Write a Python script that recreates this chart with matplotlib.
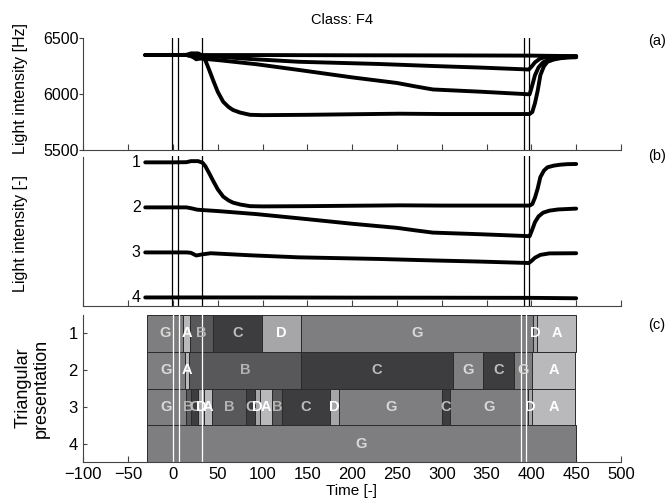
import matplotlib
matplotlib.use("Agg")
import matplotlib.pyplot as plt


plt.rcParams["font.family"] = ["Liberation Sans", "DejaVu Sans"]

#######################################################################################################
# data

# panel (a): raw light intensity [Hz] of the four sensors
t_s1 = [-31, 0, 15, 20, 28, 33, 36, 40, 45, 50, 56, 62, 67, 75, 86, 100, 150, 200, 253, 300, 350, 398,
        401, 404, 407, 410, 414, 418, 425, 432, 440, 450]
hz_s1 = [6350, 6350, 6352, 6365, 6365, 6345, 6305, 6225, 6120, 6020, 5932, 5885, 5858, 5835, 5815, 5812,
         5815, 5820, 5825, 5822, 5822, 5822, 5840, 5920, 6030, 6170, 6250, 6290, 6310, 6321, 6328, 6330]

t_s2 = [-31, 15, 20, 27, 32, 50, 93, 141, 200, 250, 270, 290, 343, 392, 398, 401, 404, 408, 413, 420, 430, 450]
hz_s2 = [6350, 6350, 6340, 6322, 6318, 6305, 6268, 6216, 6150, 6100, 6070, 6042, 6022, 6001, 5998,
         6080, 6170, 6240, 6285, 6310, 6325, 6335]

t_s3 = [-31, 15, 20, 26, 32, 42, 86, 140, 230, 290, 343, 393, 397, 400, 404, 410, 420, 450]
hz_s3 = [6350, 6350, 6345, 6312, 6325, 6340, 6315, 6290, 6270, 6252, 6238, 6222, 6220, 6245, 6285,
         6320, 6338, 6340]

t_s4 = [-31, 100, 200, 300, 400, 450]
hz_s4 = [6350, 6350, 6348, 6347, 6345, 6340]

# panel (b) shows each sensor shifted to its index and scaled
BASE_HZ = 6350
HZ_PER_UNIT = 550

# event markers
events_ab = [-1, 6, 32, 391.5, 397.5]
events_c = [0, 7, 32, 388, 394.5]

# panel (c): triangular presentation, one row per sensor
row1_edges = [-29.5, 11.5, 19, 45, 99, 142.5, 402, 406.5, 450]
row1_classes = ["G", "A", "B", "C", "D", "G", "D", "A"]

row2_edges = [-29.5, 13, 17.5, 143, 312, 346, 381, 400.5, 449]
row2_classes = ["G", "A", "B", "C", "G", "C", "G", "A"]

row3_edges = [-29.5, 15, 20, 28, 34.5, 43.5, 82, 91.5, 97, 111, 122, 175, 185.5, 300.5, 309, 396.5, 401, 449]
row3_classes = ["G", "B", "C", "D", "A", "B", "C", "D", "A", "B", "C", "D", "G", "C", "G", "D", "A"]

row4_edges = [-29.5, 449.5]
row4_classes = ["G"]

x_ticks = [-100, -50, 0, 50, 100, 150, 200, 250, 300, 350, 400, 450, 500]

#######################################################################################################

block_color = {"G": "#7e7e80", "A": "#b9b9bb", "B": "#58585a", "C": "#3d3d3f", "D": "#a6a6a8"}
label_color = {"G": "#d9d9d9", "A": "white", "B": "#b3b3b3", "C": "#bdbdbd", "D": "white"}

W, H = 670, 499


def frame(left, top, right, bottom):
    return [left / W, 1 - bottom / H, (right - left) / W, (bottom - top) / H]


fig = plt.figure(figsize=(6.7, 4.99), dpi=100)
ax_a = fig.add_axes(frame(83.4, 38.3, 621, 150))
ax_b = fig.add_axes(frame(83.4, 156.5, 621, 306))
ax_c = fig.add_axes(frame(83.4, 315, 621, 462))

series = [(t_s1, hz_s1), (t_s2, hz_s2), (t_s3, hz_s3), (t_s4, hz_s4)]

for ax in (ax_a, ax_b, ax_c):
    ax.set_xlim(-100, 500)
    ax.set_xticks(x_ticks)
    for side in ("top", "right"):
        ax.spines[side].set_visible(False)
    for side in ("left", "bottom"):
        ax.spines[side].set_linewidth(0.8)
        ax.spines[side].set_color("#444444")
    ax.tick_params(axis="x", direction="in", length=4.5, width=0.8, color="#444444")

# (a)
for t, hz in series:
    ax_a.plot(t, hz, color="black", lw=2.8, solid_joinstyle="round", solid_capstyle="round")
for e in events_ab:
    ax_a.axvline(e, color="black", lw=0.9)
ax_a.set_ylim(5500, 6500)
ax_a.set_yticks([5500, 6000, 6500])
ax_a.tick_params(axis="y", direction="out", length=2.6, width=0.8, pad=1, labelsize=11.5, color="#444444")
ax_a.tick_params(axis="x", labelbottom=False)

# (b)
for k, (t, hz) in enumerate(series, start=1):
    norm = [k + (BASE_HZ - v) / HZ_PER_UNIT for v in hz]
    ax_b.plot(t, norm, color="black", lw=2.8, solid_joinstyle="round", solid_capstyle="round")
    ax_b.text(t[0] - 5, k, str(k), ha="right", va="center", fontsize=11.5)
for e in events_ab:
    ax_b.axvline(e, color="black", lw=0.9)
ax_b.set_ylim(4.19, 0.87)
ax_b.set_yticks([])
ax_b.tick_params(axis="x", labelbottom=False)

# (c)
rows = [(row1_edges, row1_classes), (row2_edges, row2_classes),
        (row3_edges, row3_classes), (row4_edges, row4_classes)]
ax_c.set_axisbelow(True)
for r, (edges, classes) in enumerate(rows, start=1):
    for i, cls in enumerate(classes):
        x0, x1 = edges[i], edges[i + 1]
        ax_c.barh(r, x1 - x0, left=x0, height=1.0, color=block_color[cls],
                  edgecolor="#2a2a2a", linewidth=0.7)
    for i, cls in enumerate(classes):
        xm = 0.5 * (edges[i] + edges[i + 1])
        ax_c.text(xm, r, cls, ha="center", va="center", fontsize=10.5, fontweight="bold",
                  color=label_color[cls])
for e in events_c:
    ax_c.axvline(e, color="white", lw=0.9)
ax_c.set_ylim(4.5, 0.5)
ax_c.set_yticks([1, 2, 3, 4])
ax_c.tick_params(axis="y", direction="in", length=3.1, width=0.8, pad=4, labelsize=12, color="#444444")
ax_c.tick_params(axis="x", labelsize=12, pad=3.5)

# texts
fig.text(342 / W, 1 - 20 / H, "Class: F4", ha="center", va="center", fontsize=10.5)
fig.text(21 / W, 1 - 88 / H, "Light intensity [Hz]", rotation=90, ha="center", va="center", fontsize=11.5)
fig.text(21 / W, 1 - 233 / H, "Light intensity [-]", rotation=90, ha="center", va="center", fontsize=11.5)
fig.text(32 / W, 1 - 388 / H, "Triangular\npresentation", rotation=90, ha="center", va="center",
         fontsize=13, linespacing=1.05)
fig.text(351 / W, 1 - 491 / H, "Time [-]", ha="center", va="center", fontsize=11)
for label, y in (("(a)", 41), ("(b)", 156), ("(c)", 325)):
    fig.text(657 / W, 1 - y / H, label, ha="center", va="center", fontsize=10.5)

fig.savefig("out.png", dpi=100)
